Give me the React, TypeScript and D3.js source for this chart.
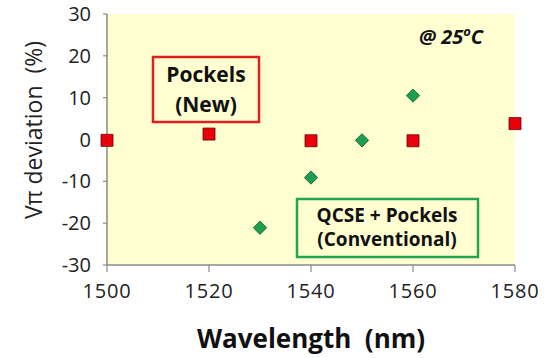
import React from 'react';
import { scaleLinear, symbol, symbolSquare } from 'd3';

const pockelsX = [1500, 1520, 1540, 1560, 1580];
const pockelsY = [-0.2, 1.3, -0.3, -0.3, 3.8];
const qcseX = [1530, 1540, 1550, 1560];
const qcseY = [-21.1, -9.1, -0.2, 10.5];
const xTicks = [1500, 1520, 1540, 1560, 1580];
const yTicks = [-30, -20, -10, 0, 10, 20, 30];

const width = 546;
const height = 358;
const margin = { top: 14, right: 31, bottom: 93, left: 107 };
const innerWidth = width - margin.left - margin.right;
const innerHeight = height - margin.top - margin.bottom;

const font = '"Open Sans", sans-serif';

const App = () => {
  const x = scaleLinear().domain([1500, 1580]).range([0, innerWidth]);
  const y = scaleLinear().domain([-30, 30]).range([innerHeight, 0]);

  const square = symbol().type(symbolSquare).size(144)();
  // diamond = square turned 45 degrees
  const diamond = symbol().type(symbolSquare).size(88)();

  return (
    <svg width={width} height={height} style={{ position: 'absolute', left: 0, top: 0, background: '#fff' }}>
      <g transform={`translate(${margin.left},${margin.top})`}>
        <rect width={innerWidth} height={innerHeight} fill="#FFFFD2" />

        {/* axes */}
        <line x1={0} x2={0} y1={0} y2={innerHeight} stroke="#8a8a8a" strokeWidth={1.5} />
        <line x1={0} x2={innerWidth} y1={innerHeight} y2={innerHeight} stroke="#8a8a8a" strokeWidth={1.5} />
        {yTicks.map(t => (
          <g key={t} transform={`translate(0,${y(t)})`}>
            <line x1={-4} x2={0} stroke="#8a8a8a" strokeWidth={1.2} />
            <text x={-16} dy="0.35em" textAnchor="end" fontFamily={font} fontSize={20} fill="#222">
              {t}
            </text>
          </g>
        ))}
        {xTicks.map(t => (
          <g key={t} transform={`translate(${x(t)},${innerHeight})`}>
            <line y1={0} y2={7} stroke="#8a8a8a" strokeWidth={1.2} />
            <text y={33} textAnchor="middle" fontFamily={font} fontSize={20} letterSpacing={0.8} fill="#222">
              {t}
            </text>
          </g>
        ))}

        {/* series */}
        {qcseX.map((d, i) => (
          <path key={'q' + i} d={diamond} transform={`translate(${x(d)},${y(qcseY[i])}) rotate(45)`}
            fill="#1E9E50" stroke="#0f5a2c" strokeWidth={0.8} />
        ))}
        {pockelsX.map((d, i) => (
          <path key={'p' + i} d={square} transform={`translate(${x(d)},${y(pockelsY[i])})`}
            fill="#E8000B" stroke="#6a0000" strokeWidth={0.8} />
        ))}

        {/* annotations */}
        <rect x={46} y={43} width={106} height={65} fill="none" stroke="#E02020" strokeWidth={2.5} />
        <text x={99} y={68} textAnchor="middle" fontFamily={font} fontWeight="bold" fontSize={21} fill="#111">Pockels</text>
        <text x={99} y={98} textAnchor="middle" fontFamily={font} fontWeight="bold" fontSize={21} fill="#111">(New)</text>

        <rect x={190} y={185} width={181} height={58} fill="none" stroke="#22A550" strokeWidth={2.5} />
        <text x={280} y={208} textAnchor="middle" fontFamily={font} fontWeight="bold" fontSize={19} fill="#111">QCSE + Pockels</text>
        <text x={280} y={232} textAnchor="middle" fontFamily={font} fontWeight="bold" fontSize={19} fill="#111">(Conventional)</text>

        <text x={344} y={30} textAnchor="middle" fontFamily={font} fontWeight="bold" fontStyle="italic" fontSize={20} fill="#111">
          @ 25<tspan fontSize={13} dy={-8}>o</tspan><tspan dy={8}>C</tspan>
        </text>
      </g>

      <text x={margin.left + innerWidth / 2} y={348} textAnchor="middle" fontFamily={font} fontWeight="bold" fontSize={26} fill="#111">
        Wavelength{'\u00a0\u00a0'}(nm)
      </text>
      <text transform="translate(42,130) rotate(-90)" textAnchor="middle" fontFamily={font} fontSize={23} fill="#222">
        Vπ deviation{'\u00a0\u00a0'}(%)
      </text>
    </svg>
  );
};

export default App;
